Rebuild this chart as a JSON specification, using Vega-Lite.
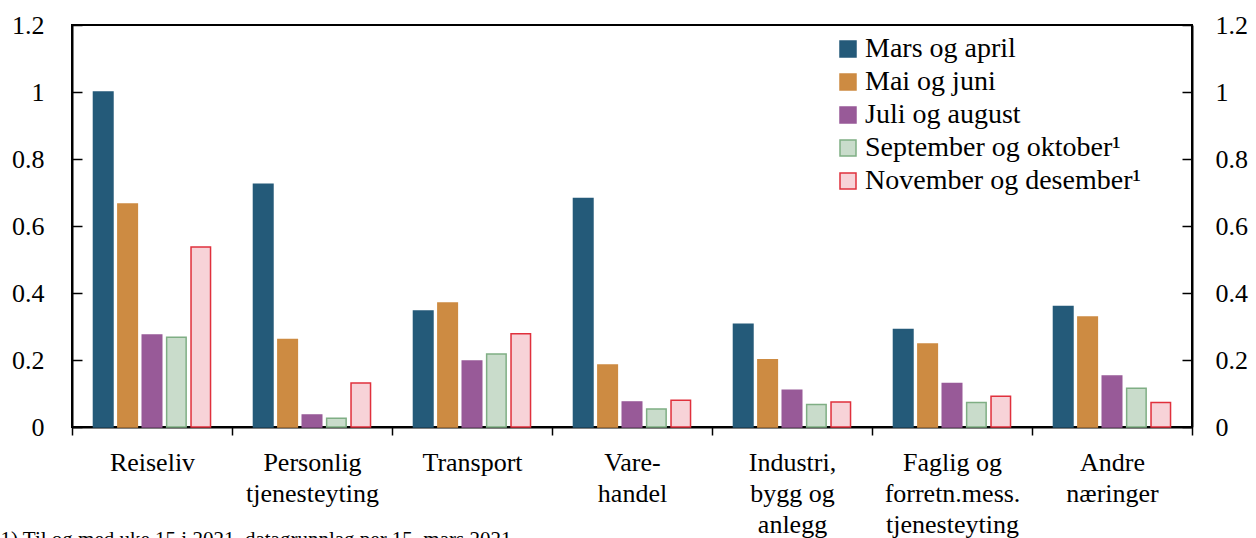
{
  "$schema": "https://vega.github.io/schema/vega-lite/v6.json",
  "width": 1120,
  "height": 402,
  "autosize": "none",
  "padding": {"left": 72, "right": 64, "top": 25, "bottom": 111},
  "background": "white",
  "config": {
    "font": "Liberation Serif, Times New Roman, serif",
    "view": {"stroke": "black", "strokeWidth": 2},
    "axis": {"labelFont": "Liberation Serif, Times New Roman, serif", "labelFontSize": 26, "labelColor": "black", "domainColor": "black", "tickColor": "black", "domainWidth": 2, "tickWidth": 1.5, "grid": false},
    "legend": {"labelFont": "Liberation Serif, Times New Roman, serif", "labelFontSize": 28, "labelColor": "black", "labelLimit": 0}
  },
  "data": {"values": [
    {"cat": "Reiseliv", "s": "Mars og april", "v": 1.0},
    {"cat": "Reiseliv", "s": "Mai og juni", "v": 0.666},
    {"cat": "Reiseliv", "s": "Juli og august", "v": 0.275},
    {"cat": "Reiseliv", "s": "September og oktober¹", "v": 0.268},
    {"cat": "Reiseliv", "s": "November og desember¹", "v": 0.537},
    {"cat": "Personlig|tjenesteyting", "s": "Mars og april", "v": 0.725},
    {"cat": "Personlig|tjenesteyting", "s": "Mai og juni", "v": 0.261},
    {"cat": "Personlig|tjenesteyting", "s": "Juli og august", "v": 0.036},
    {"cat": "Personlig|tjenesteyting", "s": "September og oktober¹", "v": 0.026},
    {"cat": "Personlig|tjenesteyting", "s": "November og desember¹", "v": 0.131},
    {"cat": "Transport", "s": "Mars og april", "v": 0.346},
    {"cat": "Transport", "s": "Mai og juni", "v": 0.37},
    {"cat": "Transport", "s": "Juli og august", "v": 0.197},
    {"cat": "Transport", "s": "September og oktober¹", "v": 0.218},
    {"cat": "Transport", "s": "November og desember¹", "v": 0.278},
    {"cat": "Vare-|handel", "s": "Mars og april", "v": 0.682},
    {"cat": "Vare-|handel", "s": "Mai og juni", "v": 0.185},
    {"cat": "Vare-|handel", "s": "Juli og august", "v": 0.075},
    {"cat": "Vare-|handel", "s": "September og oktober¹", "v": 0.054},
    {"cat": "Vare-|handel", "s": "November og desember¹", "v": 0.08},
    {"cat": "Industri,|bygg og|anlegg", "s": "Mars og april", "v": 0.307},
    {"cat": "Industri,|bygg og|anlegg", "s": "Mai og juni", "v": 0.201},
    {"cat": "Industri,|bygg og|anlegg", "s": "Juli og august", "v": 0.11},
    {"cat": "Industri,|bygg og|anlegg", "s": "September og oktober¹", "v": 0.067},
    {"cat": "Industri,|bygg og|anlegg", "s": "November og desember¹", "v": 0.075},
    {"cat": "Faglig og|forretn.mess.|tjenesteyting", "s": "Mars og april", "v": 0.291},
    {"cat": "Faglig og|forretn.mess.|tjenesteyting", "s": "Mai og juni", "v": 0.248},
    {"cat": "Faglig og|forretn.mess.|tjenesteyting", "s": "Juli og august", "v": 0.13},
    {"cat": "Faglig og|forretn.mess.|tjenesteyting", "s": "September og oktober¹", "v": 0.073},
    {"cat": "Faglig og|forretn.mess.|tjenesteyting", "s": "November og desember¹", "v": 0.092},
    {"cat": "Andre|næringer", "s": "Mars og april", "v": 0.36},
    {"cat": "Andre|næringer", "s": "Mai og juni", "v": 0.328},
    {"cat": "Andre|næringer", "s": "Juli og august", "v": 0.152},
    {"cat": "Andre|næringer", "s": "September og oktober¹", "v": 0.116},
    {"cat": "Andre|næringer", "s": "November og desember¹", "v": 0.073}
  ]},
  "encoding": {
    "x": {
      "field": "cat", "type": "nominal", "sort": null,
      "scale": {"paddingInner": 0, "paddingOuter": 0},
      "axis": {
        "labelAngle": 0, "labelExpr": "split(datum.label, '|')", "labelLineHeight": 31,
        "labelPadding": 14, "tickBand": "extent", "tickSize": 8, "labelBaseline": "top",
        "title": "1) Til og med uke 15 i 2021, datagrunnlag per 15. mars 2021",
        "titleAnchor": "start", "titleAlign": "left", "titleBaseline": "top",
        "titleX": -72, "titleY": 101, "titleFontSize": 21, "titleFontWeight": "normal", "titleFont": "Liberation Serif, Times New Roman, serif", "titleColor": "black"
      }
    }
  },
  "layer": [
    {
      "mark": {"type": "bar", "strokeWidth": 1.5},
      "encoding": {
        "xOffset": {"field": "s", "type": "nominal", "sort": null, "scale": {"paddingInner": 0.2, "paddingOuter": 0.88}},
        "y": {"field": "v", "type": "quantitative", "scale": {"domain": [0, 1.2], "nice": false},
          "axis": {"orient": "left", "values": [0, 0.2, 0.4, 0.6, 0.8, 1, 1.2], "format": "~f", "tickSize": -10, "labelPadding": 38, "title": null, "labelFlush": false}},
        "fill": {"field": "s", "type": "nominal", "sort": null,
          "scale": {"domain": ["Mars og april", "Mai og juni", "Juli og august", "September og oktober¹", "November og desember¹"],
                    "range": ["#245a79", "#cd8b42", "#985a98", "#c9dccb", "#f7d3d8"]},
          "legend": {"title": null, "orient": "none", "legendX": 762, "legendY": 10, "symbolType": "square", "symbolSize": 256, "symbolStrokeWidth": 1.5, "rowPadding": 5, "labelOffset": 3}},
        "stroke": {"field": "s", "type": "nominal", "sort": null,
          "scale": {"domain": ["Mars og april", "Mai og juni", "Juli og august", "September og oktober¹", "November og desember¹"],
                    "range": ["#245a79", "#cd8b42", "#985a98", "#7fae84", "#e0303c"]},
          "legend": {"title": null, "orient": "none", "legendX": 762, "legendY": 10, "symbolType": "square", "symbolSize": 256, "symbolStrokeWidth": 1.5, "rowPadding": 5, "labelOffset": 3}}
      }
    },
    {
      "mark": {"type": "tick", "opacity": 0},
      "encoding": {
        "y": {"field": "v", "type": "quantitative", "scale": {"domain": [0, 1.2], "nice": false},
          "axis": {"orient": "right", "values": [0, 0.2, 0.4, 0.6, 0.8, 1, 1.2], "format": "~f", "tickSize": -10, "labelPadding": 33, "title": null, "labelFlush": false}}
      }
    }
  ],
  "resolve": {"scale": {"y": "independent"}}
}
